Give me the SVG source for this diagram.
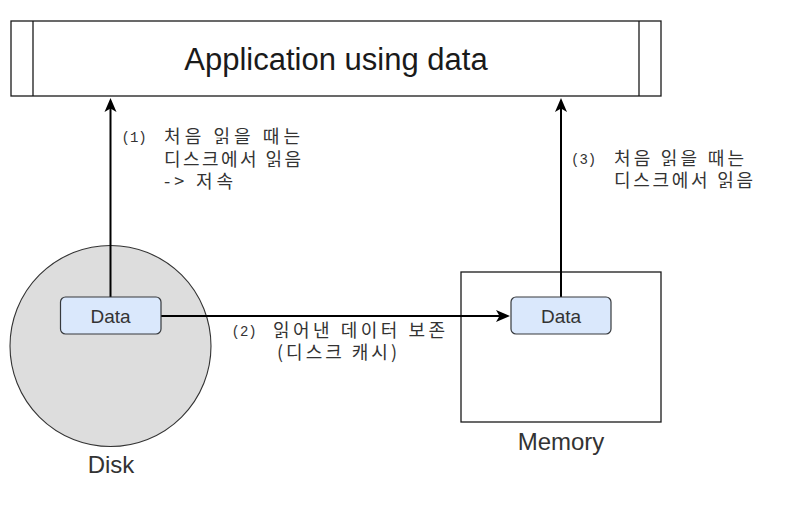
<svg xmlns="http://www.w3.org/2000/svg" width="785" height="505" viewBox="0 0 785 505">
<style>
.bg{fill:#ffffff}
.box{fill:#ffffff;stroke:#1a1a1a;stroke-width:1.3}
.data{fill:#dae8fc;stroke:#36393d;stroke-width:1.2}
.disk{fill:#dddddd;stroke:#333333;stroke-width:1.1}
.conn{fill:none;stroke:#000000;stroke-width:2}
.sans{font-family:"Liberation Sans",Arial,sans-serif;fill:#333333}
.title{font-size:31px;fill:#1a1a1a}
.dtext{font-size:19px;text-anchor:middle}
.cap{font-size:24px;text-anchor:middle}
.kr{font-family:"Noto Sans CJK KR","Noto Sans",sans-serif;font-size:18px;fill:#333333}
.num{font-family:"Liberation Mono","Noto Sans CJK KR",monospace;font-size:14px;fill:#333333}
</style>
<defs>
<marker id="arr" markerUnits="userSpaceOnUse" markerWidth="15" markerHeight="13" refX="4" refY="6.5" orient="auto">
<path d="M14,6.5 L0,0.5 L3.5,6.5 L0,12.5 Z" fill="#000000"/>
</marker>
</defs>
<rect class="bg" x="0" y="0" width="785" height="505"/>

<g id="app">
<rect class="box" x="11" y="21" width="650" height="75"/>
<line class="box" x1="33" y1="21" x2="33" y2="96"/>
<line class="box" x1="639" y1="21" x2="639" y2="96"/>
<text class="sans title" x="336" y="70" text-anchor="middle">Application using data</text>
</g>

<g id="disk">
<circle class="disk" cx="110.5" cy="346" r="100.5"/>
<text class="sans cap" x="111" y="473">Disk</text>
</g>

<g id="memory">
<rect class="box" x="461" y="272" width="200" height="150"/>
<text class="sans cap" x="561" y="450">Memory</text>
</g>

<g id="connectors">
<path class="conn" d="M110.5,297 L110.5,108" marker-end="url(#arr)"/>
<path class="conn" d="M561,297 L561,108" marker-end="url(#arr)"/>
<path class="conn" d="M161,316 L500,316" marker-end="url(#arr)"/>
</g>

<g id="disk-data">
<rect class="data" x="60.5" y="297" width="100.5" height="37" rx="5" ry="5"/>
<text class="sans dtext" x="110.5" y="322.5">Data</text>
</g>

<g id="memory-data">
<rect class="data" x="511" y="297" width="100" height="37" rx="5" ry="5"/>
<text class="sans dtext" x="561" y="322.5">Data</text>
</g>

<g id="label1">
<text class="num" x="121.5" y="142">(1)</text>
<text class="kr" x="164" y="143" textLength="136" lengthAdjust="spacing">처음 읽을 때는</text>
<text class="kr" x="164" y="165.5" textLength="137" lengthAdjust="spacing">디스크에서 읽음</text>
<text class="kr" x="164" y="187.5" textLength="69" lengthAdjust="spacing">-&gt; 저속</text>
</g>

<g id="label2">
<text class="num" x="231.5" y="336">(2)</text>
<text class="kr" x="273" y="337" textLength="172" lengthAdjust="spacing">읽어낸 데이터 보존</text>
<text class="kr" x="277" y="359" textLength="120" lengthAdjust="spacing">(디스크 캐시)</text>
</g>

<g id="label3">
<text class="num" x="571" y="163.5">(3)</text>
<text class="kr" x="614" y="164.5" textLength="130" lengthAdjust="spacing">처음 읽을 때는</text>
<text class="kr" x="614" y="186.5" textLength="139" lengthAdjust="spacing">디스크에서 읽음</text>
</g>
</svg>
